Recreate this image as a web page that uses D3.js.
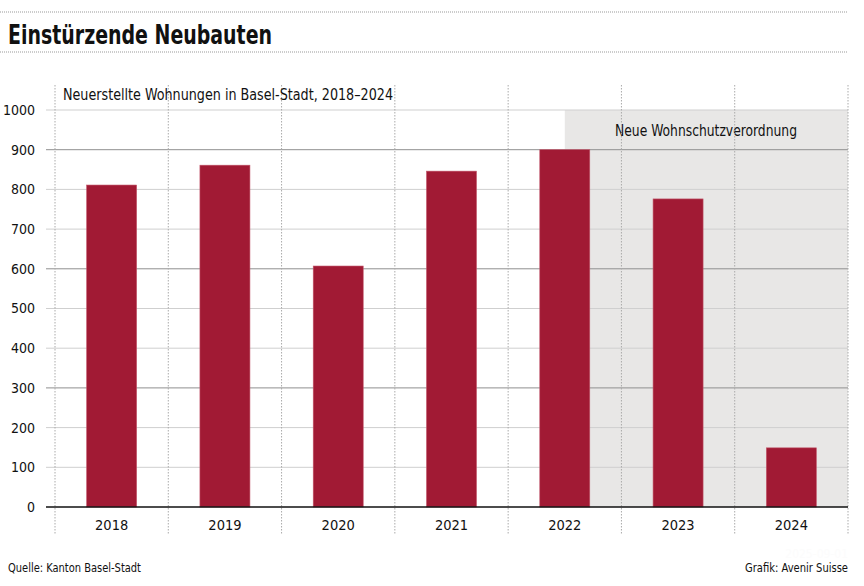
<!DOCTYPE html>
<html><head><meta charset="utf-8">
<script src="https://cdn.jsdelivr.net/npm/d3@7"></script>
<style>
html,body{margin:0;padding:0;background:#fff;}
svg{display:block;}
text{font-family:"DejaVu Sans Condensed","Liberation Sans Narrow","Roboto",sans-serif;fill:#111;}
</style></head>
<body>
<svg id="c" width="864" height="586"></svg>
<script>
const years = ["2018","2019","2020","2021","2022","2023","2024"];
const values = [811, 861, 607, 846, 900, 776, 149];
const yTicks = [0,100,200,300,400,500,600,700,800,900,1000];
const title = "Einstürzende Neubauten";
const subtitle = "Neuerstellte Wohnungen in Basel-Stadt, 2018–2024";
const shadeLabel = "Neue Wohnschutzverordnung";
const shadeFrom = "2022";
const source = "Quelle: Kanton Basel-Stadt";
const credit = "Grafik: Avenir Suisse";
const dateText = "2025-09-01";

const svg = d3.select("#c");
const L = 55, R = 848, T = 110, B = 507;
const x = d3.scaleBand().domain(years).range([L, R]).paddingInner(0).paddingOuter(0);
const y = d3.scaleLinear().domain([0, 1000]).range([B, T]);
const barW = 50;

// top dotted rules
[12, 52].forEach(yy => svg.append("line").attr("x1", 0).attr("x2", R).attr("y1", yy).attr("y2", yy)
  .attr("stroke", "#999").attr("stroke-width", 1).attr("stroke-dasharray", "1,1"));

svg.append("text").attr("x", 8).attr("y", 44).attr("font-size", 27).attr("font-weight", "bold")
  .attr("textLength", 264).attr("lengthAdjust", "spacingAndGlyphs").text(title);

// shaded region
const sx = x(shadeFrom) + x.bandwidth() / 2;
svg.append("rect").attr("x", sx).attr("y", y(1000)).attr("width", R - sx).attr("height", y(0) - y(1000))
  .attr("fill", "#e8e7e6");
svg.append("text").attr("x", 615).attr("y", 136)
  .attr("font-size", 15).attr("textLength", 182).attr("lengthAdjust", "spacingAndGlyphs").text(shadeLabel);

// horizontal gridlines
svg.append("g").selectAll("line").data(yTicks.filter(d => d > 0)).join("line")
  .attr("x1", 46).attr("x2", R).attr("y1", d => y(d)).attr("y2", d => y(d))
  .attr("stroke", d => d % 300 === 0 ? "#8f8f8f" : "#cfcfcf").attr("stroke-width", 1);

// vertical dotted gridlines
const bounds = years.map(d => x(d)).concat([R]);
svg.append("g").selectAll("line").data(bounds).join("line")
  .attr("x1", d => d).attr("x2", d => d).attr("y1", 85).attr("y2", 534)
  .attr("stroke", "#aaa").attr("stroke-width", 1).attr("stroke-dasharray", "1.5,1.5");

// subtitle
svg.append("text").attr("x", 63).attr("y", 100).attr("font-size", 15)
  .attr("textLength", 330).attr("lengthAdjust", "spacingAndGlyphs").text(subtitle);

// bars
svg.append("g").selectAll("rect").data(years).join("rect")
  .attr("x", (d) => x(d) + x.bandwidth() / 2 - barW / 2)
  .attr("y", (d, i) => y(values[i]))
  .attr("width", barW)
  .attr("height", (d, i) => y(0) - y(values[i]))
  .attr("fill", "#a11a34").attr("stroke", "#c2566a").attr("stroke-width", 0.6);

// axis line
svg.append("line").attr("x1", 46).attr("x2", R).attr("y1", B).attr("y2", B)
  .attr("stroke", "#111").attr("stroke-width", 1.5);

// y labels
const yAxis = d3.axisLeft(y).tickValues(yTicks).tickFormat(d3.format("d")).tickSize(0).tickPadding(0);
const gy = svg.append("g").attr("transform", `translate(35,0)`).call(yAxis);
gy.select(".domain").remove();
gy.selectAll("text").attr("font-size", 14).attr("fill", "#111")
  .style("font-family", '"DejaVu Sans Condensed",sans-serif');

// x labels
const xAxis = d3.axisBottom(x).tickSize(0).tickPadding(0);
const gx = svg.append("g").attr("transform", `translate(0,520)`).call(xAxis);
gx.select(".domain").remove();
gx.selectAll("text").attr("font-size", 14.5).attr("fill", "#111")
  .style("font-family", '"DejaVu Sans Condensed",sans-serif');

// footer
svg.append("text").attr("x", 8).attr("y", 572).attr("font-size", 12).attr("fill", "#222")
  .attr("textLength", 133).attr("lengthAdjust", "spacingAndGlyphs").text(source);
svg.append("text").attr("x", 745).attr("y", 572).attr("font-size", 12).attr("fill", "#222")
  .attr("textLength", 103).attr("lengthAdjust", "spacingAndGlyphs").text(credit);
svg.append("text").attr("x", R).attr("y", 558).attr("text-anchor", "end").attr("font-size", 12).style("fill", "#fcfcfc").text(dateText);
</script>
</body></html>
